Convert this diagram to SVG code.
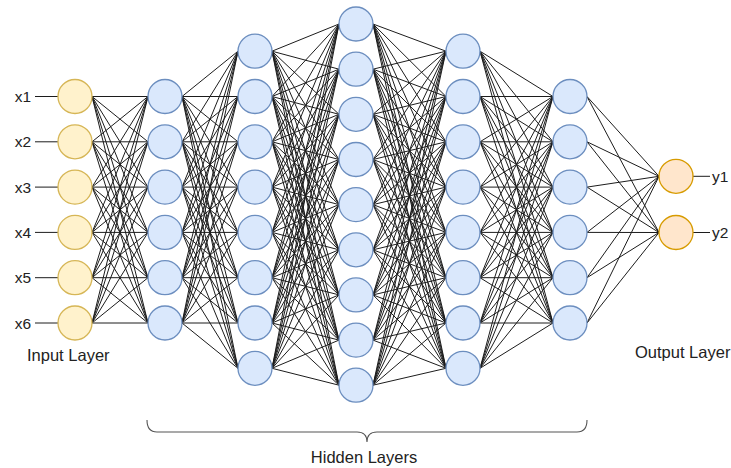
<svg xmlns="http://www.w3.org/2000/svg" width="731" height="468" viewBox="0 0 731 468">
<style>
.e path{stroke:#1c1c1c;stroke-width:1;fill:none}
.in circle{fill:#fff2cc;stroke:#d6b656;stroke-width:1.3}
.hid circle{fill:#dae8fc;stroke:#6c8ebf;stroke-width:1.3}
.out circle{fill:#ffe6cc;stroke:#d79b00;stroke-width:1.3}
text{font-family:"Liberation Sans",Arial,sans-serif;fill:#222}
.lbl{font-size:15.5px}
.ttl{font-size:16.5px}
.tick{stroke:#222;stroke-width:1}
</style>
<rect width="731" height="468" fill="#fff"/>
<g id="connectors" class="e">
<path d="M92 96.5 148 96.5"/><path d="M92 96.5 148 141.8"/><path d="M92 96.5 148 187.1"/><path d="M92 96.5 148 232.4"/><path d="M92 96.5 148 277.7"/><path d="M92 96.5 148 323"/>
<path d="M92 141.8 148 96.5"/><path d="M92 141.8 148 141.8"/><path d="M92 141.8 148 187.1"/><path d="M92 141.8 148 232.4"/><path d="M92 141.8 148 277.7"/><path d="M92 141.8 148 323"/>
<path d="M92 187.1 148 96.5"/><path d="M92 187.1 148 141.8"/><path d="M92 187.1 148 187.1"/><path d="M92 187.1 148 232.4"/><path d="M92 187.1 148 277.7"/><path d="M92 187.1 148 323"/>
<path d="M92 232.4 148 96.5"/><path d="M92 232.4 148 141.8"/><path d="M92 232.4 148 187.1"/><path d="M92 232.4 148 232.4"/><path d="M92 232.4 148 277.7"/><path d="M92 232.4 148 323"/>
<path d="M92 277.7 148 96.5"/><path d="M92 277.7 148 141.8"/><path d="M92 277.7 148 187.1"/><path d="M92 277.7 148 232.4"/><path d="M92 277.7 148 277.7"/><path d="M92 277.7 148 323"/>
<path d="M92 323 148 96.5"/><path d="M92 323 148 141.8"/><path d="M92 323 148 187.1"/><path d="M92 323 148 232.4"/><path d="M92 323 148 277.7"/><path d="M92 323 148 323"/>

<path d="M182 96.5 238 51.2"/><path d="M182 96.5 238 96.5"/><path d="M182 96.5 238 141.8"/><path d="M182 96.5 238 187.1"/><path d="M182 96.5 238 232.4"/><path d="M182 96.5 238 277.7"/><path d="M182 96.5 238 323"/><path d="M182 96.5 238 368.3"/>
<path d="M182 141.8 238 51.2"/><path d="M182 141.8 238 96.5"/><path d="M182 141.8 238 141.8"/><path d="M182 141.8 238 187.1"/><path d="M182 141.8 238 232.4"/><path d="M182 141.8 238 277.7"/><path d="M182 141.8 238 323"/><path d="M182 141.8 238 368.3"/>
<path d="M182 187.1 238 51.2"/><path d="M182 187.1 238 96.5"/><path d="M182 187.1 238 141.8"/><path d="M182 187.1 238 187.1"/><path d="M182 187.1 238 232.4"/><path d="M182 187.1 238 277.7"/><path d="M182 187.1 238 323"/><path d="M182 187.1 238 368.3"/>
<path d="M182 232.4 238 51.2"/><path d="M182 232.4 238 96.5"/><path d="M182 232.4 238 141.8"/><path d="M182 232.4 238 187.1"/><path d="M182 232.4 238 232.4"/><path d="M182 232.4 238 277.7"/><path d="M182 232.4 238 323"/><path d="M182 232.4 238 368.3"/>
<path d="M182 277.7 238 51.2"/><path d="M182 277.7 238 96.5"/><path d="M182 277.7 238 141.8"/><path d="M182 277.7 238 187.1"/><path d="M182 277.7 238 232.4"/><path d="M182 277.7 238 277.7"/><path d="M182 277.7 238 323"/><path d="M182 277.7 238 368.3"/>
<path d="M182 323 238 51.2"/><path d="M182 323 238 96.5"/><path d="M182 323 238 141.8"/><path d="M182 323 238 187.1"/><path d="M182 323 238 232.4"/><path d="M182 323 238 277.7"/><path d="M182 323 238 323"/><path d="M182 323 238 368.3"/>

<path d="M272 51.2 339 24"/><path d="M272 51.2 339 69.2"/><path d="M272 51.2 339 114.3"/><path d="M272 51.2 339 159.5"/><path d="M272 51.2 339 204.6"/><path d="M272 51.2 339 249.8"/><path d="M272 51.2 339 294.9"/><path d="M272 51.2 339 340.1"/><path d="M272 51.2 339 385.2"/>
<path d="M272 96.5 339 24"/><path d="M272 96.5 339 69.2"/><path d="M272 96.5 339 114.3"/><path d="M272 96.5 339 159.5"/><path d="M272 96.5 339 204.6"/><path d="M272 96.5 339 249.8"/><path d="M272 96.5 339 294.9"/><path d="M272 96.5 339 340.1"/><path d="M272 96.5 339 385.2"/>
<path d="M272 141.8 339 24"/><path d="M272 141.8 339 69.2"/><path d="M272 141.8 339 114.3"/><path d="M272 141.8 339 159.5"/><path d="M272 141.8 339 204.6"/><path d="M272 141.8 339 249.8"/><path d="M272 141.8 339 294.9"/><path d="M272 141.8 339 340.1"/><path d="M272 141.8 339 385.2"/>
<path d="M272 187.1 339 24"/><path d="M272 187.1 339 69.2"/><path d="M272 187.1 339 114.3"/><path d="M272 187.1 339 159.5"/><path d="M272 187.1 339 204.6"/><path d="M272 187.1 339 249.8"/><path d="M272 187.1 339 294.9"/><path d="M272 187.1 339 340.1"/><path d="M272 187.1 339 385.2"/>
<path d="M272 232.4 339 24"/><path d="M272 232.4 339 69.2"/><path d="M272 232.4 339 114.3"/><path d="M272 232.4 339 159.5"/><path d="M272 232.4 339 204.6"/><path d="M272 232.4 339 249.8"/><path d="M272 232.4 339 294.9"/><path d="M272 232.4 339 340.1"/><path d="M272 232.4 339 385.2"/>
<path d="M272 277.7 339 24"/><path d="M272 277.7 339 69.2"/><path d="M272 277.7 339 114.3"/><path d="M272 277.7 339 159.5"/><path d="M272 277.7 339 204.6"/><path d="M272 277.7 339 249.8"/><path d="M272 277.7 339 294.9"/><path d="M272 277.7 339 340.1"/><path d="M272 277.7 339 385.2"/>
<path d="M272 323 339 24"/><path d="M272 323 339 69.2"/><path d="M272 323 339 114.3"/><path d="M272 323 339 159.5"/><path d="M272 323 339 204.6"/><path d="M272 323 339 249.8"/><path d="M272 323 339 294.9"/><path d="M272 323 339 340.1"/><path d="M272 323 339 385.2"/>
<path d="M272 368.3 339 24"/><path d="M272 368.3 339 69.2"/><path d="M272 368.3 339 114.3"/><path d="M272 368.3 339 159.5"/><path d="M272 368.3 339 204.6"/><path d="M272 368.3 339 249.8"/><path d="M272 368.3 339 294.9"/><path d="M272 368.3 339 340.1"/><path d="M272 368.3 339 385.2"/>

<path d="M373 24 446 51.2"/><path d="M373 24 446 96.5"/><path d="M373 24 446 141.8"/><path d="M373 24 446 187.1"/><path d="M373 24 446 232.4"/><path d="M373 24 446 277.7"/><path d="M373 24 446 323"/><path d="M373 24 446 368.3"/>
<path d="M373 69.2 446 51.2"/><path d="M373 69.2 446 96.5"/><path d="M373 69.2 446 141.8"/><path d="M373 69.2 446 187.1"/><path d="M373 69.2 446 232.4"/><path d="M373 69.2 446 277.7"/><path d="M373 69.2 446 323"/><path d="M373 69.2 446 368.3"/>
<path d="M373 114.3 446 51.2"/><path d="M373 114.3 446 96.5"/><path d="M373 114.3 446 141.8"/><path d="M373 114.3 446 187.1"/><path d="M373 114.3 446 232.4"/><path d="M373 114.3 446 277.7"/><path d="M373 114.3 446 323"/><path d="M373 114.3 446 368.3"/>
<path d="M373 159.5 446 51.2"/><path d="M373 159.5 446 96.5"/><path d="M373 159.5 446 141.8"/><path d="M373 159.5 446 187.1"/><path d="M373 159.5 446 232.4"/><path d="M373 159.5 446 277.7"/><path d="M373 159.5 446 323"/><path d="M373 159.5 446 368.3"/>
<path d="M373 204.6 446 51.2"/><path d="M373 204.6 446 96.5"/><path d="M373 204.6 446 141.8"/><path d="M373 204.6 446 187.1"/><path d="M373 204.6 446 232.4"/><path d="M373 204.6 446 277.7"/><path d="M373 204.6 446 323"/><path d="M373 204.6 446 368.3"/>
<path d="M373 249.8 446 51.2"/><path d="M373 249.8 446 96.5"/><path d="M373 249.8 446 141.8"/><path d="M373 249.8 446 187.1"/><path d="M373 249.8 446 232.4"/><path d="M373 249.8 446 277.7"/><path d="M373 249.8 446 323"/><path d="M373 249.8 446 368.3"/>
<path d="M373 294.9 446 51.2"/><path d="M373 294.9 446 96.5"/><path d="M373 294.9 446 141.8"/><path d="M373 294.9 446 187.1"/><path d="M373 294.9 446 232.4"/><path d="M373 294.9 446 277.7"/><path d="M373 294.9 446 323"/><path d="M373 294.9 446 368.3"/>
<path d="M373 340.1 446 51.2"/><path d="M373 340.1 446 96.5"/><path d="M373 340.1 446 141.8"/><path d="M373 340.1 446 187.1"/><path d="M373 340.1 446 232.4"/><path d="M373 340.1 446 277.7"/><path d="M373 340.1 446 323"/><path d="M373 340.1 446 368.3"/>
<path d="M373 385.2 446 51.2"/><path d="M373 385.2 446 96.5"/><path d="M373 385.2 446 141.8"/><path d="M373 385.2 446 187.1"/><path d="M373 385.2 446 232.4"/><path d="M373 385.2 446 277.7"/><path d="M373 385.2 446 323"/><path d="M373 385.2 446 368.3"/>

<path d="M480 51.2 553 96.5"/><path d="M480 51.2 553 141.8"/><path d="M480 51.2 553 187.1"/><path d="M480 51.2 553 232.4"/><path d="M480 51.2 553 277.7"/><path d="M480 51.2 553 323"/>
<path d="M480 96.5 553 96.5"/><path d="M480 96.5 553 141.8"/><path d="M480 96.5 553 187.1"/><path d="M480 96.5 553 232.4"/><path d="M480 96.5 553 277.7"/><path d="M480 96.5 553 323"/>
<path d="M480 141.8 553 96.5"/><path d="M480 141.8 553 141.8"/><path d="M480 141.8 553 187.1"/><path d="M480 141.8 553 232.4"/><path d="M480 141.8 553 277.7"/><path d="M480 141.8 553 323"/>
<path d="M480 187.1 553 96.5"/><path d="M480 187.1 553 141.8"/><path d="M480 187.1 553 187.1"/><path d="M480 187.1 553 232.4"/><path d="M480 187.1 553 277.7"/><path d="M480 187.1 553 323"/>
<path d="M480 232.4 553 96.5"/><path d="M480 232.4 553 141.8"/><path d="M480 232.4 553 187.1"/><path d="M480 232.4 553 232.4"/><path d="M480 232.4 553 277.7"/><path d="M480 232.4 553 323"/>
<path d="M480 277.7 553 96.5"/><path d="M480 277.7 553 141.8"/><path d="M480 277.7 553 187.1"/><path d="M480 277.7 553 232.4"/><path d="M480 277.7 553 277.7"/><path d="M480 277.7 553 323"/>
<path d="M480 323 553 96.5"/><path d="M480 323 553 141.8"/><path d="M480 323 553 187.1"/><path d="M480 323 553 232.4"/><path d="M480 323 553 277.7"/><path d="M480 323 553 323"/>
<path d="M480 368.3 553 96.5"/><path d="M480 368.3 553 141.8"/><path d="M480 368.3 553 187.1"/><path d="M480 368.3 553 232.4"/><path d="M480 368.3 553 277.7"/><path d="M480 368.3 553 323"/>

<path d="M587 96.5 659 176.3"/><path d="M587 96.5 659 232.5"/>
<path d="M587 141.8 659 176.3"/><path d="M587 141.8 659 232.5"/>
<path d="M587 187.1 659 176.3"/><path d="M587 187.1 659 232.5"/>
<path d="M587 232.4 659 176.3"/><path d="M587 232.4 659 232.5"/>
<path d="M587 277.7 659 176.3"/><path d="M587 277.7 659 232.5"/>
<path d="M587 323 659 176.3"/><path d="M587 323 659 232.5"/>

<path d="M35 96.5 58 96.5"/><path d="M35 141.8 58 141.8"/><path d="M35 187.1 58 187.1"/><path d="M35 232.4 58 232.4"/><path d="M35 277.7 58 277.7"/><path d="M35 323 58 323"/>
<path d="M693 176.3 710 176.3"/><path d="M693 232.5 710 232.5"/>
</g>

<g id="input-layer" class="in">
<g id="x1"><circle cx="75" cy="96.5" r="17"/><text class="lbl" x="31" y="102" text-anchor="end">x1</text></g>
<g id="x2"><circle cx="75" cy="141.8" r="17"/><text class="lbl" x="31" y="147.3" text-anchor="end">x2</text></g>
<g id="x3"><circle cx="75" cy="187.1" r="17"/><text class="lbl" x="31" y="192.6" text-anchor="end">x3</text></g>
<g id="x4"><circle cx="75" cy="232.4" r="17"/><text class="lbl" x="31" y="237.9" text-anchor="end">x4</text></g>
<g id="x5"><circle cx="75" cy="277.7" r="17"/><text class="lbl" x="31" y="283.2" text-anchor="end">x5</text></g>
<g id="x6"><circle cx="75" cy="323" r="17"/><text class="lbl" x="31" y="328.5" text-anchor="end">x6</text></g>
</g>

<g id="hidden-1" class="hid">
<g id="h1-1"><circle cx="165" cy="96.5" r="17"/></g>
<g id="h1-2"><circle cx="165" cy="141.8" r="17"/></g>
<g id="h1-3"><circle cx="165" cy="187.1" r="17"/></g>
<g id="h1-4"><circle cx="165" cy="232.4" r="17"/></g>
<g id="h1-5"><circle cx="165" cy="277.7" r="17"/></g>
<g id="h1-6"><circle cx="165" cy="323" r="17"/></g>
</g>

<g id="hidden-2" class="hid">
<g id="h2-1"><circle cx="255" cy="51.2" r="17"/></g>
<g id="h2-2"><circle cx="255" cy="96.5" r="17"/></g>
<g id="h2-3"><circle cx="255" cy="141.8" r="17"/></g>
<g id="h2-4"><circle cx="255" cy="187.1" r="17"/></g>
<g id="h2-5"><circle cx="255" cy="232.4" r="17"/></g>
<g id="h2-6"><circle cx="255" cy="277.7" r="17"/></g>
<g id="h2-7"><circle cx="255" cy="323" r="17"/></g>
<g id="h2-8"><circle cx="255" cy="368.3" r="17"/></g>
</g>

<g id="hidden-3" class="hid">
<g id="h3-1"><circle cx="356" cy="24" r="17"/></g>
<g id="h3-2"><circle cx="356" cy="69.2" r="17"/></g>
<g id="h3-3"><circle cx="356" cy="114.3" r="17"/></g>
<g id="h3-4"><circle cx="356" cy="159.5" r="17"/></g>
<g id="h3-5"><circle cx="356" cy="204.6" r="17"/></g>
<g id="h3-6"><circle cx="356" cy="249.8" r="17"/></g>
<g id="h3-7"><circle cx="356" cy="294.9" r="17"/></g>
<g id="h3-8"><circle cx="356" cy="340.1" r="17"/></g>
<g id="h3-9"><circle cx="356" cy="385.2" r="17"/></g>
</g>

<g id="hidden-4" class="hid">
<g id="h4-1"><circle cx="463" cy="51.2" r="17"/></g>
<g id="h4-2"><circle cx="463" cy="96.5" r="17"/></g>
<g id="h4-3"><circle cx="463" cy="141.8" r="17"/></g>
<g id="h4-4"><circle cx="463" cy="187.1" r="17"/></g>
<g id="h4-5"><circle cx="463" cy="232.4" r="17"/></g>
<g id="h4-6"><circle cx="463" cy="277.7" r="17"/></g>
<g id="h4-7"><circle cx="463" cy="323" r="17"/></g>
<g id="h4-8"><circle cx="463" cy="368.3" r="17"/></g>
</g>

<g id="hidden-5" class="hid">
<g id="h5-1"><circle cx="570" cy="96.5" r="17"/></g>
<g id="h5-2"><circle cx="570" cy="141.8" r="17"/></g>
<g id="h5-3"><circle cx="570" cy="187.1" r="17"/></g>
<g id="h5-4"><circle cx="570" cy="232.4" r="17"/></g>
<g id="h5-5"><circle cx="570" cy="277.7" r="17"/></g>
<g id="h5-6"><circle cx="570" cy="323" r="17"/></g>
</g>

<g id="output-layer" class="out">
<g id="y1"><circle cx="676" cy="176.3" r="17"/><text class="lbl" x="712" y="181.8">y1</text></g>
<g id="y2"><circle cx="676" cy="232.5" r="17"/><text class="lbl" x="712" y="238">y2</text></g>
</g>

<g id="labels">
<text class="ttl" x="27" y="361">Input Layer</text>
<text class="ttl" x="635" y="358">Output Layer</text>
<path d="M147 420 Q147 432 157 432 L357 432 Q367 432 367 442 Q367 432 377 432 L577 432 Q587 432 587 420" fill="none" stroke="#555" stroke-width="1.1"/>
<text class="ttl" x="364" y="463" text-anchor="middle">Hidden Layers</text>
</g>
</svg>
